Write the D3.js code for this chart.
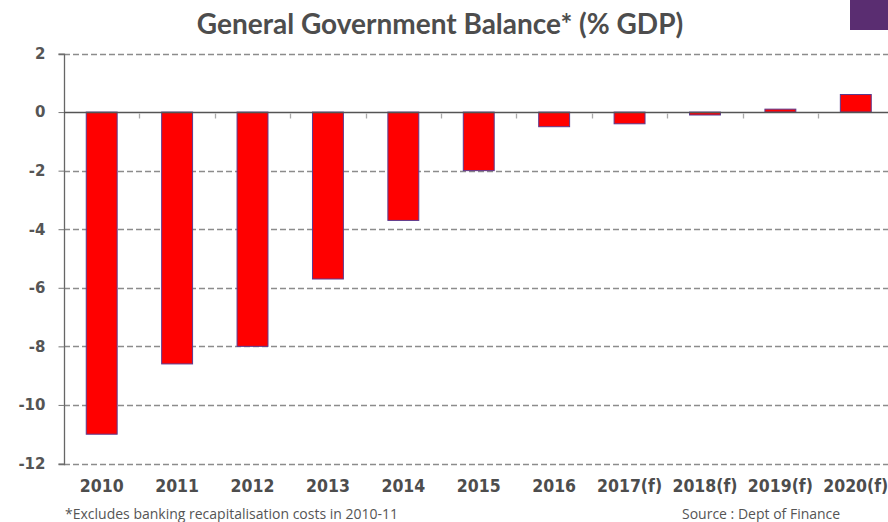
<!DOCTYPE html>
<html>
<head>
<meta charset="utf-8">
<title>General Government Balance</title>
<script src="https://d3js.org/d3.v7.min.js"></script>
<style>
  body { margin: 0; background: #fff; }
  svg { display: block; }
</style>
</head>
<body>
<svg id="chart"></svg>
<script>
// data
var years = ["2010", "2011", "2012", "2013", "2014", "2015", "2016", "2017(f)", "2018(f)", "2019(f)", "2020(f)"];
var balance = [-11.0, -8.6, -8.0, -5.7, -3.7, -2.0, -0.5, -0.4, -0.1, 0.1, 0.6];
var yTicks = [2, 0, -2, -4, -6, -8, -10, -12];

var W = 888, H = 522;
var plotLeft = 64, plotRight = 893.5, plotTop = 53.5, plotBottom = 463.5;

var svg = d3.select("#chart").attr("width", W).attr("height", H);

var x = d3.scaleBand().domain(years).range([plotLeft, plotRight]).padding(0);
var y = d3.scaleLinear().domain([-12, 2]).range([plotBottom, plotTop]);

// dashed grid lines
svg.append("g").selectAll("line")
  .data(yTicks.filter(function(d) { return d != 0; }))
  .enter().append("line")
  .attr("x1", plotLeft).attr("x2", W)
  .attr("y1", function(d) { return Math.round(y(d)) + 0.5; })
  .attr("y2", function(d) { return Math.round(y(d)) + 0.5; })
  .attr("stroke", "#8c8c8c")
  .attr("stroke-width", 1.3)
  .attr("stroke-dasharray", "6,3");

// y axis (plain hyphen for negatives)
var yAxis = d3.axisLeft(y).tickValues(yTicks).tickSize(6).tickPadding(13)
  .tickFormat(function(d) { return String(d); });
var gy = svg.append("g").attr("transform", "translate(" + (plotLeft + 0.5) + ",0)").call(yAxis);
gy.select(".domain").attr("stroke", "#666").attr("stroke-width", 1.3)
  .attr("d", "M-6," + (Math.round(y(2)) + 0.5) + "H0V" + (Math.round(y(-12)) + 0.5) + "H-6");
gy.selectAll(".tick line").attr("stroke", "#777");
gy.selectAll(".tick text")
  .attr("fill", "#555")
  .style("font-family", "'DejaVu Sans', Verdana, sans-serif")
  .style("font-weight", "bold")
  .style("font-size", "15px");

// bars
var barW = x.bandwidth() * 0.41;
svg.append("g").selectAll("rect")
  .data(balance)
  .enter().append("rect")
  .attr("x", function(d, i) { return x(years[i]) + (x.bandwidth() - barW) / 2; })
  .attr("y", function(d) { return y(Math.max(0, d)); })
  .attr("width", barW)
  .attr("height", function(d) { return Math.abs(y(d) - y(0)); })
  .attr("fill", "#ff0000")
  .attr("stroke", "#5b3a8e")
  .attr("stroke-width", 1);

// zero line with ticks between categories
var zeroY = Math.round(y(0)) + 0.5;
svg.append("line")
  .attr("x1", plotLeft).attr("x2", W)
  .attr("y1", zeroY).attr("y2", zeroY)
  .attr("stroke", "#555").attr("stroke-width", 1.3);
svg.append("g").selectAll("line")
  .data(years.slice(1))
  .enter().append("line")
  .attr("x1", function(d) { return Math.round(x(d)) + 0.5; })
  .attr("x2", function(d) { return Math.round(x(d)) + 0.5; })
  .attr("y1", zeroY + 1).attr("y2", zeroY + 6)
  .attr("stroke", "#aaa").attr("stroke-width", 1.3);

// category labels
svg.append("g").selectAll("text")
  .data(years)
  .enter().append("text")
  .attr("x", function(d) { return x(d) + x.bandwidth() / 2; })
  .attr("y", 492)
  .attr("text-anchor", "middle")
  .attr("fill", "#4d4d4d")
  .style("font-family", "'DejaVu Sans', sans-serif")
  .style("font-stretch", "condensed")
  .style("font-weight", "bold")
  .style("font-size", "17.5px")
  .text(function(d) { return d; });

// title
svg.append("text")
  .attr("x", 440).attr("y", 34)
  .attr("text-anchor", "middle")
  .attr("fill", "#4d4d4d")
  .style("font-family", "Lato, sans-serif")
  .style("font-weight", "bold")
  .style("font-size", "28px")
  .text("General Government Balance* (% GDP)");

// corner badge
svg.append("rect")
  .attr("x", 850).attr("y", 0).attr("width", 38).attr("height", 30)
  .attr("fill", "#5a2d71");

// footnotes
svg.append("text")
  .attr("x", 65).attr("y", 519)
  .attr("fill", "#555")
  .style("font-family", "'Open Sans', sans-serif")
  .style("font-size", "14px")
  .text("*Excludes banking recapitalisation costs in 2010-11");

svg.append("text")
  .attr("x", 682).attr("y", 519)
  .attr("fill", "#555")
  .style("font-family", "'Open Sans', sans-serif")
  .style("font-size", "14px")
  .text("Source : Dept of Finance");
</script>
</body>
</html>
